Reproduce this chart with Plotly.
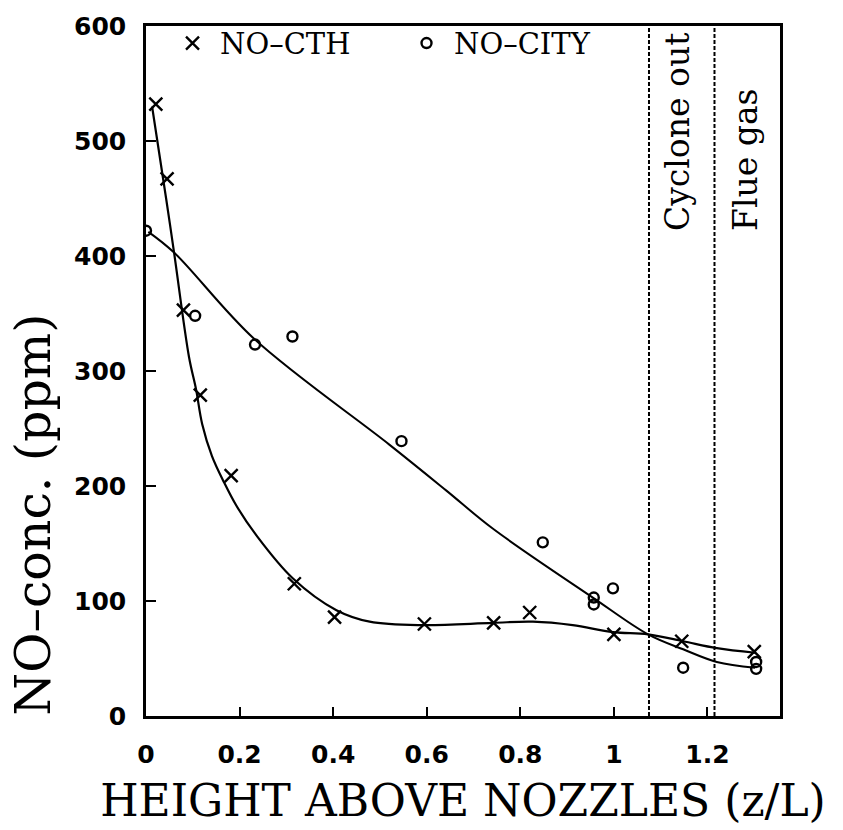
import plotly.graph_objects as go

# ---- data ----
cth_x = [0.021, 0.045, 0.080, 0.116, 0.182, 0.317, 0.403, 0.595, 0.743, 0.820, 1.000, 1.145, 1.300]
cth_y = [532, 467, 353, 279, 209, 115, 86, 80, 81, 90, 71, 65, 56]

city_x = [0.000, 0.105, 0.233, 0.313, 0.546, 0.848, 0.957, 0.957, 0.998, 1.148, 1.304, 1.304]
city_y = [422, 348, 323, 330, 239, 151, 103, 97, 111, 42, 47, 41]

cth_fit_x = [0.013, 0.043, 0.060, 0.092, 0.107, 0.120, 0.141, 0.167, 0.193, 0.236, 0.313,
             0.407, 0.478, 0.591, 0.741, 0.827, 0.912, 0.998, 1.073, 1.148, 1.220, 1.302]
cth_fit_y = [530, 450, 403, 312, 284, 254, 226, 203, 183, 157, 120,
             92, 82, 79, 81, 82, 79, 73, 71, 65, 59, 55]

city_fit_x = [0.005, 0.060, 0.231, 0.520, 0.642, 0.741, 0.955, 1.073, 1.148, 1.220, 1.302]
city_fit_y = [421, 403, 328, 236, 196, 163, 103, 71, 58, 47, 42]

zone_bounds = [1.075, 1.215]
zone_label_x = [1.135, 1.280]
zone_labels = ["Cyclone out", "Flue gas"]
zone_label_y = 420

x_ticks = [0, 0.2, 0.4, 0.6, 0.8, 1.0, 1.2]
x_tick_text = ["0", "0.2", "0.4", "0.6", "0.8", "1", "1.2"]
y_ticks = [0, 100, 200, 300, 400, 500, 600]

SERIF = "DejaVu Serif"
SANS = "DejaVu Sans"

fig = go.Figure()

fig.add_trace(go.Scatter(x=cth_fit_x, y=cth_fit_y, mode="lines",
                         line=dict(color="black", width=2.2, shape="spline", smoothing=1.0),
                         showlegend=False, hoverinfo="skip"))
fig.add_trace(go.Scatter(x=city_fit_x, y=city_fit_y, mode="lines",
                         line=dict(color="black", width=2.0, shape="spline", smoothing=1.0),
                         showlegend=False, hoverinfo="skip"))

fig.add_trace(go.Scatter(x=cth_x, y=cth_y, mode="markers", name="NO–CTH",
                         marker=dict(symbol="x-thin-open", size=13, color="black",
                                     line=dict(width=2.4, color="black"))))
fig.add_trace(go.Scatter(x=city_x, y=city_y, mode="markers", name="NO–CITY",
                         marker=dict(symbol="circle-open", size=10, color="black",
                                     line=dict(width=2.4, color="black"))))

for xb in zone_bounds:
    fig.add_shape(type="line", xref="x", yref="paper", x0=xb, x1=xb, y0=0, y1=1,
                  line=dict(color="black", width=2, dash="4px,2px"))

for lx, lt in zip(zone_label_x, zone_labels):
    fig.add_annotation(x=lx, y=zone_label_y, xref="x", yref="y", text=lt, showarrow=False,
                       textangle=-90, xanchor="center", yanchor="bottom",
                       font=dict(family=SERIF, size=33, color="black"))

fig.add_annotation(x=-0.178, y=0.292, xref="paper", yref="paper", text="NO–conc. (ppm)",
                   showarrow=False, textangle=-90, xanchor="center", yanchor="middle",
                   font=dict(family=SERIF, size=49, color="black"))

axis_common = dict(showgrid=False, zeroline=False, showline=True, linecolor="black",
                   linewidth=2.5, mirror=True, ticks="inside", tickcolor="black",
                   tickwidth=2, color="black")

fig.update_xaxes(range=[0, 1.355], tickvals=x_ticks, ticktext=x_tick_text, ticklen=9,
                 tickfont=dict(family=SANS, size=25, color="black", weight="bold"),
                 ticklabelstandoff=14,
                 title=dict(text="HEIGHT ABOVE NOZZLES (z/L)", standoff=18,
                            font=dict(family=SERIF, size=44, color="black")),
                 **axis_common)
fig.update_yaxes(range=[0, 600], tickvals=y_ticks, ticklen=10,
                 tickfont=dict(family=SANS, size=25, color="black", weight="bold"),
                 ticklabelstandoff=12,
                 **axis_common)

fig.update_layout(
    width=843, height=830,
    margin=dict(l=146, r=63, t=24, b=108),
    paper_bgcolor="white", plot_bgcolor="white",
    showlegend=True,
    legend=dict(orientation="h", x=0.03, y=1.012, xanchor="left", yanchor="top",
                font=dict(family=SERIF, size=29, color="black"),
                bgcolor="rgba(0,0,0,0)", borderwidth=0,
                entrywidth=174, entrywidthmode="pixels", itemwidth=45),
)

fig.write_html("out.html")
